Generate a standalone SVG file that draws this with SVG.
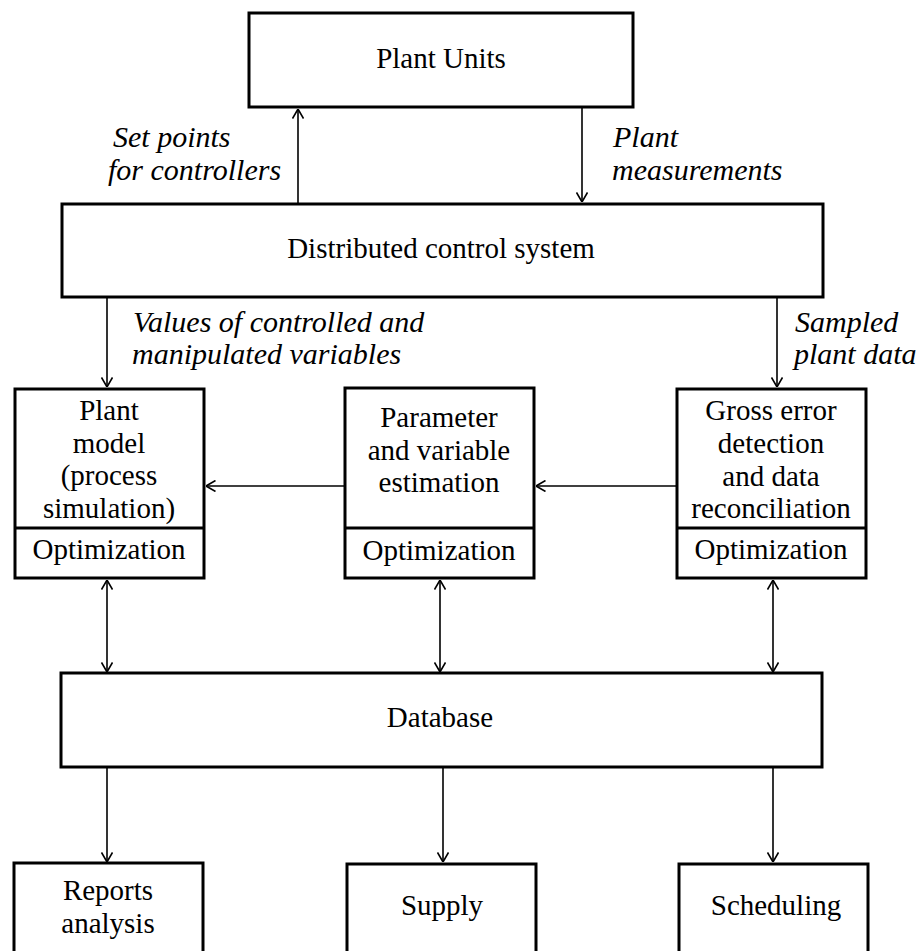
<svg xmlns="http://www.w3.org/2000/svg" width="917" height="951" viewBox="0 0 917 951">
<style>
.box{fill:#fff;stroke:#000;stroke-width:3}
.div{stroke:#000;stroke-width:3}
.t{font-family:"Liberation Serif","Times New Roman",serif;font-size:29px;fill:#000;text-anchor:middle}
.l{font-family:"Liberation Serif","Times New Roman",serif;font-size:30px;font-style:italic;fill:#000}
.c{stroke:#000;stroke-width:1.6;fill:none}
</style>
<defs>
<marker id="ah" viewBox="0 0 10 12" refX="10" refY="6" markerWidth="10" markerHeight="12" markerUnits="userSpaceOnUse" orient="auto-start-reverse">
<path d="M0.5,0.5 L10,6 L0.5,11.5" fill="none" stroke="#000" stroke-width="1.6"/>
</marker>
</defs>
<rect x="0" y="0" width="917" height="951" fill="#fff"/>

<g id="connectors">
<line class="c" x1="298" y1="204" x2="298" y2="109" marker-end="url(#ah)"/>
<line class="c" x1="582" y1="107" x2="582" y2="202" marker-end="url(#ah)"/>
<line class="c" x1="107" y1="297" x2="107" y2="387" marker-end="url(#ah)"/>
<line class="c" x1="777" y1="297" x2="777" y2="387" marker-end="url(#ah)"/>
<line class="c" x1="345" y1="486" x2="206" y2="486" marker-end="url(#ah)"/>
<line class="c" x1="677" y1="486" x2="536" y2="486" marker-end="url(#ah)"/>
<line class="c" x1="107" y1="580" x2="107" y2="672" marker-start="url(#ah)" marker-end="url(#ah)"/>
<line class="c" x1="440" y1="580" x2="440" y2="672" marker-start="url(#ah)" marker-end="url(#ah)"/>
<line class="c" x1="773" y1="580" x2="773" y2="672" marker-start="url(#ah)" marker-end="url(#ah)"/>
<line class="c" x1="107" y1="768" x2="107" y2="862" marker-end="url(#ah)"/>
<line class="c" x1="443" y1="768" x2="443" y2="862" marker-end="url(#ah)"/>
<line class="c" x1="773" y1="768" x2="773" y2="862" marker-end="url(#ah)"/>
<text class="l" x="113" y="147">Set points</text>
<text class="l" x="108" y="180">for controllers</text>
<text class="l" x="613" y="147">Plant</text>
<text class="l" x="612" y="180">measurements</text>
<text class="l" x="133" y="332">Values of controlled and</text>
<text class="l" x="132" y="364">manipulated variables</text>
<text class="l" x="795" y="332">Sampled</text>
<text class="l" x="794" y="364">plant data</text>
</g>

<g id="plant-units">
<rect class="box" x="249" y="13" width="384" height="94"/>
<text class="t" x="441" y="68">Plant Units</text>
</g>

<g id="dcs">
<rect class="box" x="62" y="204" width="761" height="93"/>
<text class="t" x="441" y="258">Distributed control system</text>
</g>

<g id="plant-model">
<rect class="box" x="15" y="389" width="189" height="189"/>
<line class="div" x1="15" y1="528" x2="204" y2="528"/>
<text class="t" x="109" y="420">Plant</text>
<text class="t" x="109" y="453">model</text>
<text class="t" x="109" y="485">(process</text>
<text class="t" x="109" y="518">simulation)</text>
<text class="t" x="109" y="559">Optimization</text>
</g>

<g id="parameter-estimation">
<rect class="box" x="345" y="388" width="189" height="190"/>
<line class="div" x1="345" y1="528" x2="534" y2="528"/>
<text class="t" x="439" y="427">Parameter</text>
<text class="t" x="439" y="460">and variable</text>
<text class="t" x="439" y="492">estimation</text>
<text class="t" x="439" y="560">Optimization</text>
</g>

<g id="gross-error">
<rect class="box" x="677" y="389" width="189" height="189"/>
<line class="div" x1="677" y1="528" x2="866" y2="528"/>
<text class="t" x="771" y="420">Gross error</text>
<text class="t" x="771" y="453">detection</text>
<text class="t" x="771" y="486">and data</text>
<text class="t" x="771" y="518">reconciliation</text>
<text class="t" x="771" y="559">Optimization</text>
</g>

<g id="database">
<rect class="box" x="61" y="673" width="761" height="94"/>
<text class="t" x="440" y="727">Database</text>
</g>

<g id="reports">
<rect class="box" x="14" y="863" width="189" height="110"/>
<text class="t" x="108" y="900">Reports</text>
<text class="t" x="108" y="933">analysis</text>
</g>

<g id="supply">
<rect class="box" x="347" y="864" width="189" height="110"/>
<text class="t" x="442" y="915">Supply</text>
</g>

<g id="scheduling">
<rect class="box" x="679" y="864" width="189" height="110"/>
<text class="t" x="776" y="915">Scheduling</text>
</g>
</svg>
